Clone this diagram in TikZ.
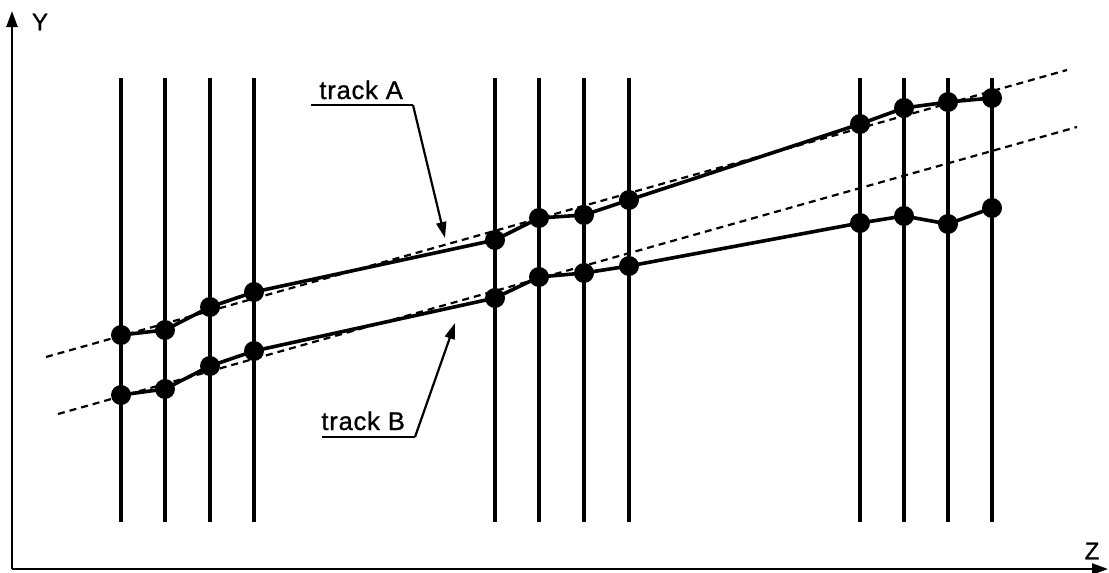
\documentclass[tikz,border=0pt]{standalone}
\usepackage{fontspec}
\setmainfont{Liberation Sans}
\usetikzlibrary{arrows.meta}
\begin{document}
\begin{tikzpicture}[x=0.5pt,y=-0.5pt,
 vline/.style={line width=1.7pt},
 trackline/.style={line width=1.8pt, line join=round},
 dot/.style={circle, fill=black, inner sep=0pt, minimum size=10pt},
 fitline/.style={line width=1.1pt, dash pattern=on 3.5pt off 2.5pt},
 axis/.style={line width=1.2pt, -{Triangle[length=8pt,width=5.5pt]}},
 leader/.style={line width=1.1pt},
 pointer/.style={line width=1.1pt, -{Triangle[length=8pt,width=5pt]}},
 lbl/.style={font=\fontsize{12.8}{14}\selectfont\addfontfeature{LetterSpace=3,FakeBold=1}, inner sep=0pt, anchor=base west},
 axlbl/.style={font=\fontsize{12}{13}\selectfont\addfontfeature{FakeBold=1}, inner sep=0pt},
]
\useasboundingbox (0,0) rectangle (1109,573);
% axes
\coordinate (O) at (12,569);
\coordinate (Ytip) at (12,11);
\coordinate (Ztip) at (1108,569);
\draw[axis] (O) -- (Ytip);
\draw[axis] (O) -- (Ztip);
\node[axlbl] (Ylab) at (40,22) {Y};
\node[axlbl] (Zlab) at (1092,551) {Z};
% fitted lines
\coordinate (FA1) at (46,357);
\coordinate (FA2) at (1067,70);
\coordinate (FB1) at (58,414);
\coordinate (FB2) at (1077,127);
\draw[fitline] (FA1) -- (FA2);
\draw[fitline] (FB1) -- (FB2);
% detector planes and hits
\foreach \i/\x/\ya/\yb in {1/121/335/395, 2/165/330/389, 3/210/307/366, 4/254/292/351,
                            5/495/240/298, 6/539/218/277, 7/584/215/273, 8/629/200/266,
                            9/860/124/223, 10/904/108/216, 11/948/102/224, 12/992/98/208}{
  \coordinate (t\i) at (\x,78);
  \coordinate (b\i) at (\x,522);
  \draw[vline] (t\i) -- (b\i);
  \coordinate (A\i) at (\x,\ya);
  \coordinate (B\i) at (\x,\yb);
}
\draw[trackline] (A1) -- (A2) -- (A3) -- (A4) -- (A5) -- (A6) -- (A7) -- (A8) -- (A9) -- (A10) -- (A11) -- (A12);
\draw[trackline] (B1) -- (B2) -- (B3) -- (B4) -- (B5) -- (B6) -- (B7) -- (B8) -- (B9) -- (B10) -- (B11) -- (B12);
\foreach \i in {1,...,12}{
  \node[dot] (dA\i) at (A\i) {};
  \node[dot] (dB\i) at (B\i) {};
}
% labels
\node[lbl] (labA) at (319,99) {track A};
\coordinate (Au) at (311,105);
\coordinate (Ak) at (413,105);
\coordinate (Atip) at (445,238);
\draw[leader] (Au) -- (Ak);
\draw[pointer] (Ak) -- (Atip);
\node[lbl] (labB) at (321,430) {track B};
\coordinate (Bu) at (322,437);
\coordinate (Bk) at (415,437);
\coordinate (Btip) at (455,323);
\draw[leader] (Bu) -- (Bk);
\draw[pointer] (Bk) -- (Btip);
\end{tikzpicture}
\end{document}
